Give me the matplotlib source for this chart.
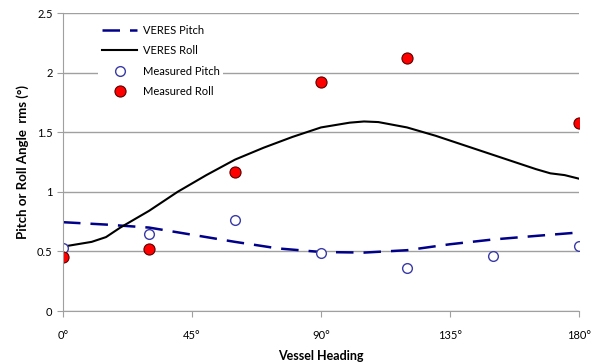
import matplotlib
matplotlib.use('Agg')
import matplotlib.pyplot as plt

# VERES predicted curves
veres_pitch_x = [0, 15, 30, 45, 60, 75, 90, 105, 120, 135, 150, 165, 178]
veres_pitch_y = [0.745, 0.725, 0.70, 0.64, 0.58, 0.525, 0.495, 0.49, 0.51, 0.56, 0.60, 0.63, 0.655]

veres_roll_x = [0, 10, 15, 20, 30, 40, 50, 60, 70, 80, 90, 100, 105, 110, 120, 130, 140, 150, 160, 165, 170, 175, 180]
veres_roll_y = [0.54, 0.58, 0.62, 0.70, 0.84, 1.00, 1.14, 1.27, 1.37, 1.46, 1.54, 1.58, 1.59, 1.585, 1.54, 1.47, 1.39, 1.31, 1.23, 1.19, 1.155, 1.14, 1.11]

# measurements
meas_pitch_x = [0, 30, 60, 90, 120, 150, 180]
meas_pitch_y = [0.53, 0.65, 0.76, 0.49, 0.36, 0.46, 0.545]

meas_roll_x = [0, 30, 60, 90, 120, 180]
meas_roll_y = [0.45, 0.52, 1.17, 1.92, 2.12, 1.58]

xticks = [0, 45, 90, 135, 180]
xtick_labels = ['0°', '45°', '90°', '135°', '180°']

plt.rcParams['font.family'] = ['Lato', 'DejaVu Sans']

fig = plt.figure(figsize=(5.95, 3.63), dpi=100)
ax = fig.add_axes([63/595, 1 - 311/363, 516/595, 298/363])

ax.plot(veres_pitch_x, veres_pitch_y, color='#00008b', lw=1.8, dashes=(7, 4), label='VERES Pitch')
ax.plot(veres_roll_x, veres_roll_y, color='black', lw=1.5, label='VERES Roll')
ax.plot(meas_pitch_x, meas_pitch_y, 'o', ms=7, mfc='white', mec='#3a3aa8', mew=1.0, label='Measured Pitch')
ax.plot(meas_roll_x, meas_roll_y, 'o', ms=8, mfc='#ff0000', mec='#5a0000', mew=0.8, label='Measured Roll')

ax.set_xlim(0, 180)
ax.set_ylim(0, 2.5)
ax.set_yticks([0, 0.5, 1, 1.5, 2, 2.5])
ax.set_yticklabels(['0', '0.5', '1', '1.5', '2', '2.5'])
ax.set_xticks(xticks)
ax.set_xticklabels(xtick_labels)
ax.yaxis.grid(True, color='#a0a0a0', lw=1)
ax.set_axisbelow(True)

for s in ['top', 'right']:
    ax.spines[s].set_visible(False)
for s in ['left', 'bottom']:
    ax.spines[s].set_color('#a0a0a0')
ax.tick_params(axis='both', colors='#a0a0a0', labelcolor='black', labelsize=8, length=4)
ax.tick_params(axis='x', pad=10)

ax.set_xlabel('Vessel Heading', fontsize=9, fontweight='bold', labelpad=6)
ax.set_ylabel('Pitch or Roll Angle  rms (°)', fontsize=9.5, fontweight='bold', labelpad=6)

leg = ax.legend(loc='upper left', bbox_to_anchor=(0.058, 0.99), fontsize=8, frameon=True,
                facecolor='white', edgecolor='none', framealpha=1, handlelength=3.2,
                borderpad=0.3, labelspacing=0.85, handletextpad=0.5)
leg.get_frame().set_linewidth(0)

fig.savefig('out.png', dpi=100)
